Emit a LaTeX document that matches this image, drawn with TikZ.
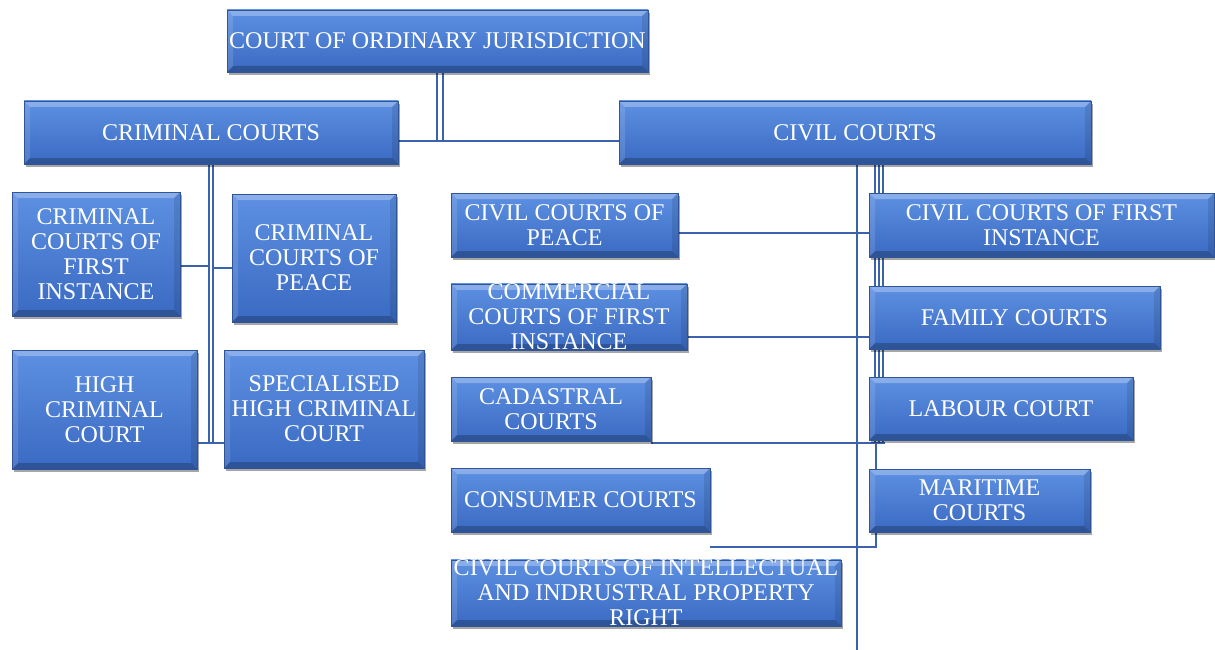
\documentclass[tikz,border=0pt]{standalone}
\usepackage{fontspec}
\setmainfont{Liberation Serif}
\usetikzlibrary{shadows,backgrounds}
\definecolor{boxtop}{HTML}{5D90E2}
\definecolor{boxbot}{HTML}{3A6AC2}
\definecolor{boxedge}{HTML}{2F5597}
\definecolor{linec}{HTML}{3B63AD}
\tikzset{
  box/.style={rectangle, inner sep=0pt, align=center, text=white,
    font=\fontsize{24}{25}\selectfont,
    top color=boxtop, bottom color=boxbot, draw=boxedge, line width=0.8pt,
    drop shadow={shadow xshift=2pt, shadow yshift=-3pt, opacity=0.35, fill=black},
    path picture={
      \fill[white,opacity=0.28] (path picture bounding box.north west) -- (path picture bounding box.north east)
        -- ([xshift=-6pt,yshift=-6pt]path picture bounding box.north east) -- ([xshift=6pt,yshift=-6pt]path picture bounding box.north west) -- cycle;
      \fill[black,opacity=0.22] (path picture bounding box.south west) -- (path picture bounding box.south east)
        -- ([xshift=-6pt,yshift=6pt]path picture bounding box.south east) -- ([xshift=6pt,yshift=6pt]path picture bounding box.south west) -- cycle;
      \fill[black,opacity=0.10] (path picture bounding box.north east) -- (path picture bounding box.south east)
        -- ([xshift=-6pt,yshift=6pt]path picture bounding box.south east) -- ([xshift=-6pt,yshift=-6pt]path picture bounding box.north east) -- cycle;
      \fill[white,opacity=0.12] (path picture bounding box.north west) -- (path picture bounding box.south west)
        -- ([xshift=6pt,yshift=6pt]path picture bounding box.south west) -- ([xshift=6pt,yshift=-6pt]path picture bounding box.north west) -- cycle;
    }},
  conn/.style={draw=linec, line width=2.8pt},
  thin/.style={draw=linec, line width=2.2pt}
}
\begin{document}
\begin{tikzpicture}[x=1pt,y=-1pt]
\useasboundingbox (0,0) rectangle (1215,650);
% boxes
\node[box, minimum width=421pt, minimum height=62pt] (top) at (437.5,41) {COURT OF ORDINARY JURISDICTION};
\node[box, minimum width=374pt, minimum height=63pt] (crim) at (211,132.5) {CRIMINAL COURTS};
\node[box, minimum width=472pt, minimum height=63pt] (civ) at (855,132.5) {CIVIL COURTS};
\node[box, minimum width=168pt, minimum height=124pt] (ccfi) at (96,254) {CRIMINAL\\COURTS OF\\FIRST\\INSTANCE};
\node[box, minimum width=164pt, minimum height=128pt] (ccp) at (314,258) {CRIMINAL\\COURTS OF\\PEACE};
\node[box, minimum width=185pt, minimum height=119pt] (hcc) at (104.5,409.5) {HIGH\\CRIMINAL\\COURT};
\node[box, minimum width=200pt, minimum height=118pt] (shcc) at (324,409) {SPECIALISED\\HIGH CRIMINAL\\COURT};
\node[box, minimum width=227pt, minimum height=64pt] (cpeace) at (564.5,225) {CIVIL COURTS OF\\PEACE};
\node[box, minimum width=236pt, minimum height=64pt] (comm) at (569,317) {COMMERCIAL\\COURTS OF FIRST\\INSTANCE};
\node[box, minimum width=200pt, minimum height=64pt] (cad) at (551,409) {CADASTRAL\\COURTS};
\node[box, minimum width=259pt, minimum height=64pt] (cons) at (580.5,500) {CONSUMER COURTS};
\node[box, minimum width=390pt, minimum height=64pt] (ip) at (646,593) {CIVIL COURTS OF INTELLECTUAL\\AND INDRUSTRAL PROPERTY\\RIGHT};
\node[box, minimum width=345pt, minimum height=64pt] (cfi) at (1041.5,225) {CIVIL COURTS OF FIRST\\INSTANCE};
\node[box, minimum width=291pt, minimum height=63pt] (fam) at (1014.5,317.5) {FAMILY COURTS};
\node[box, minimum width=264pt, minimum height=63pt] (lab) at (1001,408.5) {LABOUR COURT};
\node[box, minimum width=221pt, minimum height=63pt] (mar) at (979.5,500.5) {MARITIME\\COURTS};
% helper coordinates
\coordinate (tj) at (440,141);
\coordinate (cv) at (213,443);
\coordinate (mv) at (857,650);
\coordinate (tr) at (879,443);
\coordinate (bt) at (876,547);
\begin{scope}[on background layer]
  % top to level 2
  \draw[thin] ([xshift=-3pt]tj |- top.south) -- ([xshift=-3pt]tj);
  \draw[thin] ([xshift=3pt]tj |- top.south) -- ([xshift=3pt]tj);
  \draw[conn] (crim.east |- tj) -- (civ.west |- tj);
  % criminal branch
  \draw[thin] ([xshift=-2pt]crim.south) -- ([xshift=-2pt]crim.south |- cv);
  \draw[thin] ([xshift=2pt]crim.south) -- ([xshift=2pt]crim.south |- cv);
  \draw[thin] (ccfi.east |- 0,266) -- ([xshift=-2pt]crim.south |- 0,266);
  \draw[thin] ([xshift=2pt]crim.south |- 0,268) -- (ccp.west |- 0,268);
  \draw[thin] (hcc.east |- cv) -- (shcc.west |- cv);
  % civil branch
  \draw[conn] (civ.south -| mv) -- (mv);
  \draw[thin] ([xshift=-4pt]civ.south -| tr) -- ([xshift=-4pt]tr);
  \draw[thin] (civ.south -| tr) -- (tr);
  \draw[thin] ([xshift=4pt]civ.south -| tr) -- ([xshift=4pt]tr);
  \draw[conn] (cpeace.east |- 0,233) -- (cfi.west |- 0,233);
  \draw[conn] (comm.east |- 0,337) -- (fam.west |- 0,337);
  \draw[conn] (cad.east |- tr) -- ([xshift=6pt]tr);
  \draw[conn] (bt |- tr) -- (bt) -- (cons.east |- bt);
\end{scope}
\end{tikzpicture}
\end{document}
